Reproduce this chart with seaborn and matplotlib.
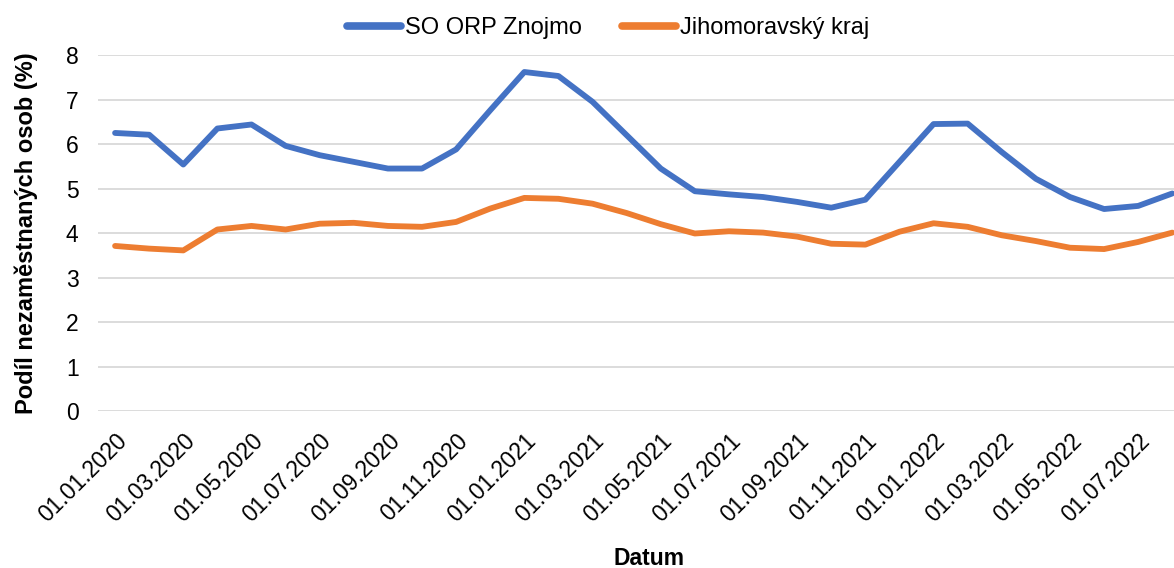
import pandas as pd
import matplotlib
matplotlib.use("Agg")
import matplotlib.pyplot as plt
import matplotlib.transforms as mtransforms
import seaborn as sns

# data (monthly, share of unemployed persons in %)
months = [
    "01.01.2020", "01.02.2020", "01.03.2020", "01.04.2020", "01.05.2020", "01.06.2020",
    "01.07.2020", "01.08.2020", "01.09.2020", "01.10.2020", "01.11.2020", "01.12.2020",
    "01.01.2021", "01.02.2021", "01.03.2021", "01.04.2021", "01.05.2021", "01.06.2021",
    "01.07.2021", "01.08.2021", "01.09.2021", "01.10.2021", "01.11.2021", "01.12.2021",
    "01.01.2022", "01.02.2022", "01.03.2022", "01.04.2022", "01.05.2022", "01.06.2022",
    "01.07.2022", "01.08.2022",
]
znojmo = [
    6.25, 6.21, 5.54, 6.35, 6.44, 5.96, 5.75, 5.60, 5.45, 5.45, 5.88, 6.76,
    7.62, 7.53, 6.95, 6.20, 5.45, 4.94, 4.87, 4.81, 4.70, 4.57, 4.75, 5.60,
    6.45, 6.46, 5.82, 5.22, 4.81, 4.54, 4.61, 4.89,
]
jmk = [
    3.71, 3.65, 3.61, 4.08, 4.16, 4.08, 4.21, 4.23, 4.16, 4.14, 4.25, 4.55,
    4.79, 4.77, 4.66, 4.45, 4.20, 3.99, 4.04, 4.01, 3.92, 3.76, 3.74, 4.03,
    4.22, 4.14, 3.95, 3.82, 3.67, 3.64, 3.80, 4.01,
]
series_names = ["SO ORP Znojmo", "Jihomoravský kraj"]
colors = ["#4472C4", "#ED7D31"]
y_ticks = [0, 1, 2, 3, 4, 5, 6, 7, 8]


def main():
    sns.set_theme(style="whitegrid")
    plt.rcParams["font.family"] = ["Liberation Sans", "DejaVu Sans"]
    plt.rcParams["text.color"] = "black"
    plt.rcParams["axes.labelcolor"] = "black"

    df = pd.concat([
        pd.DataFrame({"Datum": months, "value": znojmo, "serie": series_names[0]}),
        pd.DataFrame({"Datum": months, "value": jmk, "serie": series_names[1]}),
    ])

    fig = plt.figure(figsize=(11.74, 5.68), dpi=100)
    ax = fig.add_axes([0.0835, 0.2764, 0.9165, 0.6266])

    sns.lineplot(data=df, x="Datum", y="value", hue="serie", sort=False,
                 palette=colors, linewidth=4.2, ax=ax, legend=False)
    for line in ax.lines:
        line.set_solid_capstyle("round")
        line.set_solid_joinstyle("round")

    ax.set_ylim(0, 8)
    ax.set_xlim(-0.5, 31.05)
    ax.set_yticks(y_ticks)
    ax.set_xticks(months[::2])
    ax.set_xticklabels(months[::2], rotation=45, ha="right", rotation_mode="anchor")

    # nudge the rotated date labels a little to the left, as in the original
    shift = mtransforms.ScaledTranslation(-6 / 100, 0, fig.dpi_scale_trans)
    for lab in ax.get_xticklabels():
        lab.set_transform(lab.get_transform() + shift)

    ax.grid(axis="y", color="#D9D9D9", linewidth=1.3)
    ax.grid(axis="x", visible=False)
    for s in ax.spines.values():
        s.set_visible(False)
    ax.tick_params(axis="y", labelsize=16.5, pad=14, length=0, colors="black")
    ax.tick_params(axis="x", labelsize=16.5, pad=13, length=0, colors="black")

    ax.set_ylabel("Podíl nezaměstnaných osob (%)", fontsize=17, weight="bold", labelpad=20)
    ax.set_xlabel("Datum", fontsize=16.5, weight="bold")
    ax.xaxis.set_label_coords(0.512, -0.414, transform=ax.transAxes)
    ax.xaxis.label.set_va("center")

    handles = [plt.Line2D([], [], color=c, linewidth=5.5, solid_capstyle="round") for c in colors]
    fig.legend(handles, series_names, loc="center", bbox_to_anchor=(0.518, 0.951),
               ncol=2, frameon=False, fontsize=17, handlelength=2.3,
               handletextpad=0.15, columnspacing=1.7)

    plt.savefig("out.png", dpi=100)
    plt.close()


if __name__ == "__main__":
    main()
